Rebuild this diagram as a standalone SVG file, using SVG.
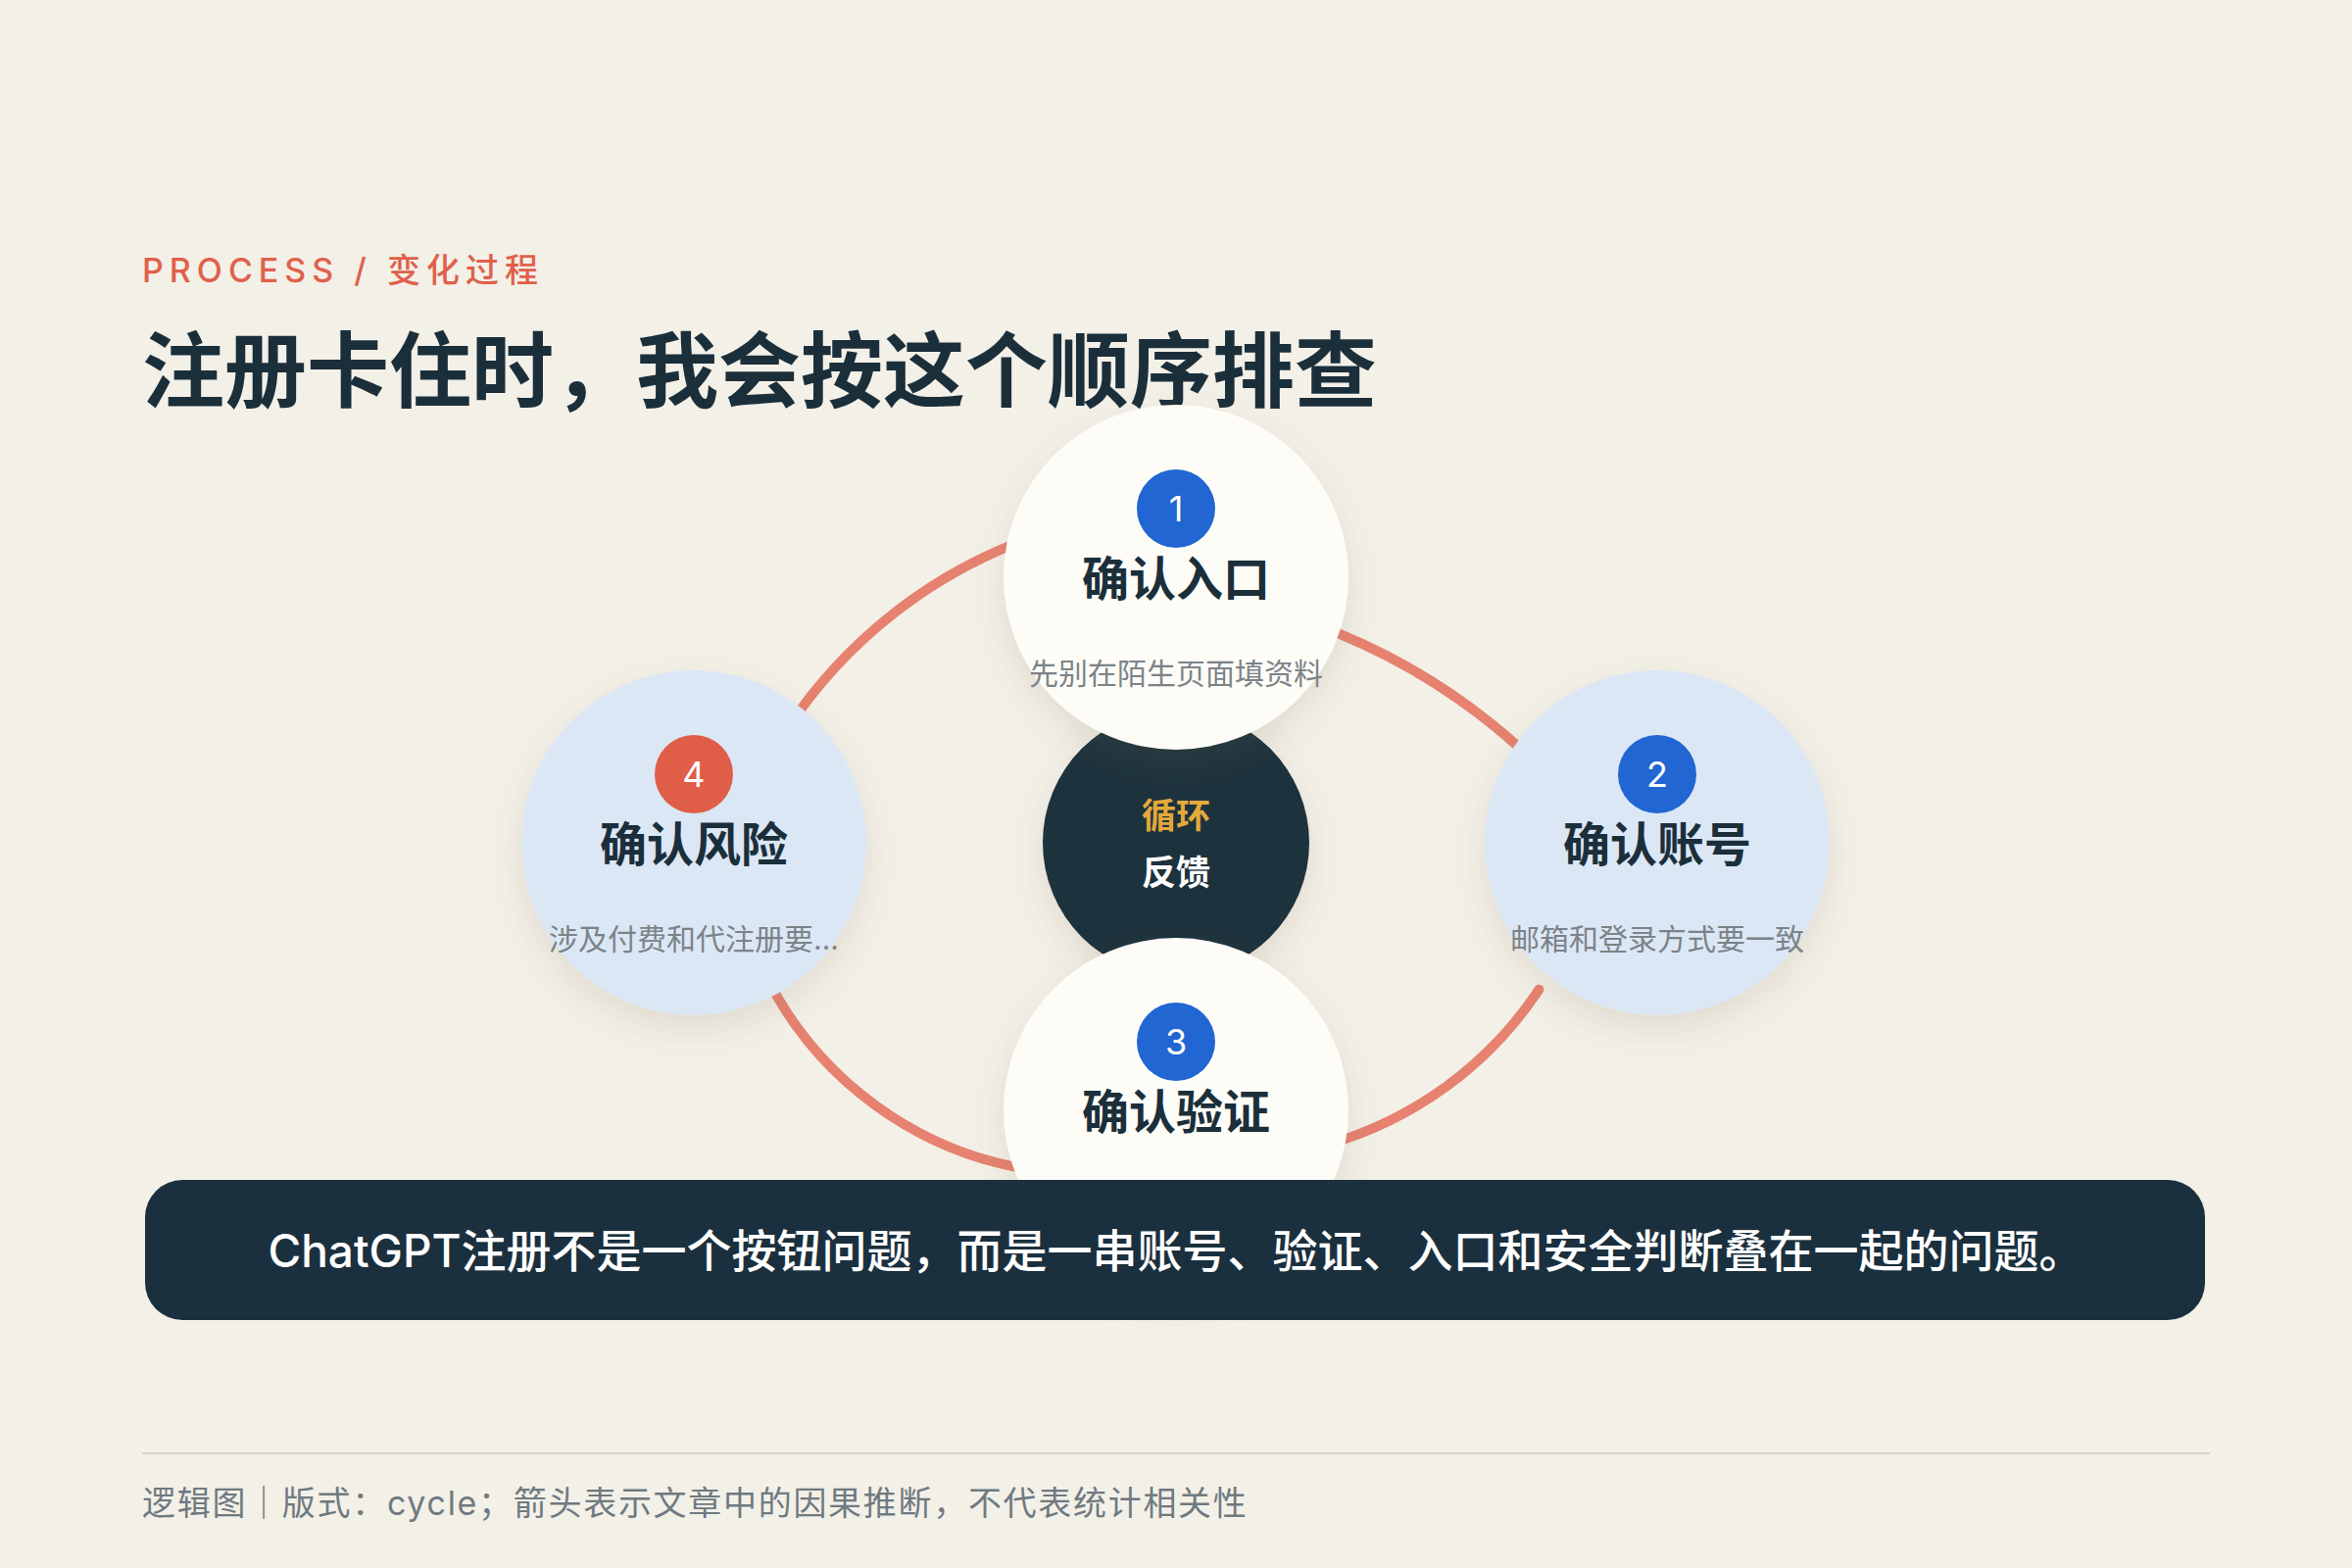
<svg xmlns="http://www.w3.org/2000/svg" width="2400" height="1600" viewBox="0 0 2400 1600">
<defs>
<filter id="sh" x="-40%" y="-40%" width="180%" height="180%">
<feDropShadow dx="0" dy="14" stdDeviation="18" flood-color="#7a6d50" flood-opacity="0.16"/>
</filter>
<style>
text{font-family:"Inter","Noto Sans CJK SC",sans-serif;}
.arc{fill:none;stroke:#e6826f;stroke-width:10;stroke-linecap:round;}
.white{fill:#fdfcf7;}
.blue{fill:#dbe7f5;}
.badge{fill:#2166d2;}
.badge-r{fill:#e05d48;}
.num{fill:#ffffff;font-size:36px;font-weight:400;text-anchor:middle;}
.nt{fill:#1b2f3b;font-size:48px;font-weight:700;text-anchor:middle;}
.ns{fill:#7b8388;font-size:30px;font-weight:400;text-anchor:middle;}
</style>
</defs>
<rect x="0" y="0" width="2400" height="1600" fill="#f3f0e8"/>

<g id="header">
<text x="145" y="288" font-size="34" font-weight="500" letter-spacing="6" fill="#e0604a">PROCESS / 变化过程</text>
<text x="145" y="409" font-size="84" font-weight="700" fill="#1b2f3b">注册卡住时，我会按这个顺序排查</text>
</g>

<g id="connectors">
<path class="arc" d="M 1340.8 636.7 A 637.7 637.7 0 0 1 1567.3 778.8"/>
<path class="arc" d="M 1570.4 1009.7 A 386.6 386.6 0 0 1 1353.9 1168.1"/>
<path class="arc" d="M 1051.6 1193.6 A 366 366 0 0 1 782.8 998.3"/>
<path class="arc" d="M 803.3 743.6 A 500 500 0 0 1 1051.7 548.8"/>
</g>

<g id="node-center">
<circle cx="1200" cy="860" r="136" fill="#1b303e" filter="url(#sh)"/>
<text x="1200" y="845" font-size="35" font-weight="700" fill="#e3a93b" text-anchor="middle">循环</text>
<text x="1200" y="903" font-size="35" font-weight="700" fill="#ffffff" text-anchor="middle">反馈</text>
</g>

<g id="node-1">
<circle class="white" cx="1200" cy="589" r="176" filter="url(#sh)"/>
<circle class="badge" cx="1200" cy="519" r="40"/>
<text class="num" x="1200" y="532">1</text>
<text class="nt" x="1200" y="608">确认入口</text>
<text class="ns" x="1200" y="698">先别在陌生页面填资料</text>
</g>

<g id="node-2">
<circle class="blue" cx="1691" cy="860" r="176" filter="url(#sh)"/>
<circle class="badge" cx="1691" cy="790" r="40"/>
<text class="num" x="1691" y="803">2</text>
<text class="nt" x="1691" y="879">确认账号</text>
<text class="ns" x="1691" y="969">邮箱和登录方式要一致</text>
</g>

<g id="node-3">
<circle class="white" cx="1200" cy="1133" r="176" filter="url(#sh)"/>
<circle class="badge" cx="1200" cy="1063" r="40"/>
<text class="num" x="1200" y="1076">3</text>
<text class="nt" x="1200" y="1152">确认验证</text>
</g>

<g id="node-4">
<circle class="blue" cx="708" cy="860" r="176" filter="url(#sh)"/>
<circle class="badge-r" cx="708" cy="790" r="40"/>
<text class="num" x="708" y="803">4</text>
<text class="nt" x="708" y="879">确认风险</text>
<text class="ns" x="708" y="969">涉及付费和代注册要...</text>
</g>

<g id="summary-bar">
<rect x="148" y="1204" width="2102" height="143" rx="38" ry="38" fill="#1b303e"/>
<text x="1200" y="1293" font-size="46" font-weight="500" fill="#ffffff" text-anchor="middle">ChatGPT注册不是一个按钮问题，而是一串账号、验证、入口和安全判断叠在一起的问题。</text>
</g>

<g id="footer">
<line x1="145" y1="1483" x2="2255" y2="1483" stroke="#d8d4cb" stroke-width="2"/>
<text x="145" y="1546" font-size="34" letter-spacing="1.7" fill="#6f7a80">逻辑图｜版式：cycle；箭头表示文章中的因果推断，不代表统计相关性</text>
</g>
</svg>
